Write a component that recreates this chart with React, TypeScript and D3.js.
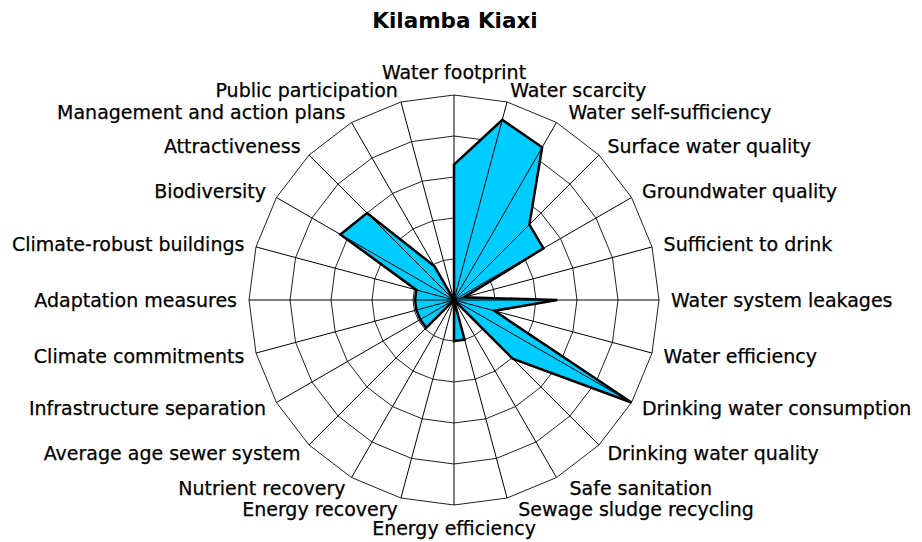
import React from "react";
import * as d3 from "d3";

const title = "Kilamba Kiaxi";

const categories = [
  "Water footprint",
  "Water scarcity",
  "Water self-sufficiency",
  "Surface water quality",
  "Groundwater quality",
  "Sufficient to drink",
  "Water system leakages",
  "Water efficiency",
  "Drinking water consumption",
  "Drinking water quality",
  "Safe sanitation",
  "Sewage sludge recycling",
  "Energy efficiency",
  "Energy recovery",
  "Nutrient recovery",
  "Average age sewer system",
  "Infrastructure separation",
  "Climate commitments",
  "Adaptation measures",
  "Climate-robust buildings",
  "Biodiversity",
  "Attractiveness",
  "Management and action plans",
  "Public participation",
];

const values = [
  3.3, 4.55, 4.3, 2.6, 2.52, 0.25, 2.52, 1.02, 5.0, 2.02, 0, 1.0,
  1.0, 0, 0, 0.96, 0.95, 0.95, 0.95, 0.95, 3.2, 3.0, 0.95, 0,
];

const ringLevels = [1, 2, 3, 4, 5];
const maxValue = 5;

export default function App() {
  const W = 922;
  const H = 542;
  const cx = 454;
  const cy = 300;
  const R = 205;
  const n = categories.length;

  const r = d3.scaleLinear().domain([0, maxValue]).range([0, R]);
  const angle = d3
    .scaleLinear()
    .domain([0, n])
    .range([0, 2 * Math.PI]);

  const radial = d3
    .lineRadial<number>()
    .angle((_, i) => angle(i))
    .radius((d) => r(d))
    .curve(d3.curveLinearClosed);

  const ringPath = (lvl: number) =>
    radial(categories.map(() => lvl)) as string;

  const dataPath = radial(values) as string;

  const fontSize = 19;
  const labelPad = 12;

  const labelNudge: Record<number, number> = { 2: 6, 10: 7, 11: 8 };

  return (
    <svg
      width={W}
      height={H}
      style={{ position: "absolute", left: 0, top: 0, background: "#fff" }}
      fontFamily="'DejaVu Sans', Verdana, sans-serif"
    >
      <text
        x={455}
        y={28}
        textAnchor="middle"
        fontSize={21.5}
        fontWeight="bold"
        fill="#000"
      >
        {title}
      </text>
      <g transform={`translate(${cx},${cy})`}>
        {ringLevels.map((lvl) => (
          <path
            key={"ring" + lvl}
            d={ringPath(lvl)}
            fill="none"
            stroke="#222"
            strokeWidth={1}
          />
        ))}
        <path d={dataPath} fill="#00CCFF" stroke="none" />
        {categories.map((c, i) => {
          const a = angle(i);
          return (
            <line
              key={"spoke" + i}
              x1={0}
              y1={0}
              x2={R * Math.sin(a)}
              y2={-R * Math.cos(a)}
              stroke="#000"
              strokeWidth={1}
            />
          );
        })}
        <path
          d={dataPath}
          fill="none"
          stroke="#000"
          strokeWidth={2.5}
          strokeLinejoin="miter"
        />
        {categories.map((c, i) => {
          const a = angle(i);
          const s = Math.sin(a);
          const co = Math.cos(a);
          const rr = R + labelPad;
          let x = rr * s + (labelNudge[i] || 0);
          let y = -rr * co;
          let anchor: "start" | "end" | "middle" = "middle";
          if (s > 0.01) anchor = "start";
          else if (s < -0.01) anchor = "end";
          let dy = "0.35em";
          if (anchor === "middle") {
            if (co > 0) {
              y = y - 4;
              dy = "0";
            } else {
              y = y + 4;
              dy = "0.72em";
            }
          }
          return (
            <text
              key={"lab" + i}
              x={x}
              y={y}
              dy={dy}
              textAnchor={anchor}
              fontSize={fontSize}
              fill="#000"
              stroke="#000"
              strokeWidth={0.25}
            >
              {c}
            </text>
          );
        })}
      </g>
    </svg>
  );
}
